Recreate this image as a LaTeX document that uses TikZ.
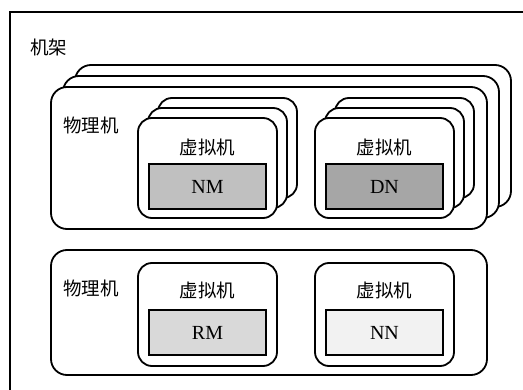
\documentclass[tikz,border=0pt]{standalone}
\usepackage{fontspec}
\setmainfont{Liberation Serif}
\newfontfamily\cjk{Noto Sans CJK SC}
\usetikzlibrary{shadows}
\definecolor{nmgray}{HTML}{C0C0C0}
\definecolor{dngray}{HTML}{A6A6A6}
\definecolor{rmgray}{HTML}{D9D9D9}
\definecolor{nngray}{HTML}{F2F2F2}

\begin{document}
\begin{tikzpicture}[
  x=1pt, y=-1pt,
  every node/.style={font=\fontsize{20}{22}\selectfont},
  zhlabel/.style={font=\cjk\fontsize{18.5}{20}\selectfont, inner sep=0pt},
  hostbox/.style={rectangle, rounded corners=16pt, draw, line width=1.8pt, fill=white, minimum width=436pt, inner sep=0pt},
  vmbox/.style={rectangle, rounded corners=14pt, draw, line width=1.8pt, fill=white, minimum width=139pt, inner sep=0pt},
  rolebox/.style={rectangle, draw, line width=2.2pt, minimum width=117pt, minimum height=45pt, inner sep=0pt},
  hoststack/.style={
    general shadow={fill=white, draw, line width=1.8pt, shadow xshift=24pt, shadow yshift=22pt},
    general shadow={fill=white, draw, line width=1.8pt, shadow xshift=12pt, shadow yshift=11pt}},
  vmstack/.style={
    general shadow={fill=white, draw, line width=1.8pt, shadow xshift=20pt, shadow yshift=20pt},
    general shadow={fill=white, draw, line width=1.8pt, shadow xshift=10pt, shadow yshift=10pt}},
]
\useasboundingbox (0,0) rectangle (523,390);
\begin{scope}
  \clip (0,0) rectangle (523,390);
  \draw[line width=1.8pt] (10,12) rectangle (540,410);
\end{scope}
\node[zhlabel, anchor=west] (rack) at (30,47) {机架};

% upper host, stacked
\node[hostbox, hoststack, minimum height=142pt] (hostA) at (269,158) {};
\node[zhlabel, anchor=west] (hostAlbl) at (63,125) {物理机};
\node[vmbox, vmstack, minimum height=100pt] (vmA1) at (207.5,168) {};
\node[vmbox, vmstack, minimum height=100pt] (vmA2) at (384.5,168) {};
\node[zhlabel] (vmA1lbl) at (207.5,147) {虚拟机};
\node[zhlabel] (vmA2lbl) at (384.5,147) {虚拟机};
\node[rolebox, fill=nmgray] (nm) at (207.5,186.5) {NM};
\node[rolebox, fill=dngray] (dn) at (384.5,186.5) {DN};

% lower host
\node[hostbox, minimum height=125pt] (hostB) at (269,312.5) {};
\node[zhlabel, anchor=west] (hostBlbl) at (63,288) {物理机};
\node[vmbox, minimum height=103pt] (vmB1) at (207.5,314.5) {};
\node[vmbox, minimum height=103pt] (vmB2) at (384.5,314.5) {};
\node[zhlabel] (vmB1lbl) at (207.5,290) {虚拟机};
\node[zhlabel] (vmB2lbl) at (384.5,290) {虚拟机};
\node[rolebox, fill=rmgray] (rm) at (207.5,332.5) {RM};
\node[rolebox, fill=nngray] (nn) at (384.5,332.5) {NN};
\end{tikzpicture}
\end{document}
